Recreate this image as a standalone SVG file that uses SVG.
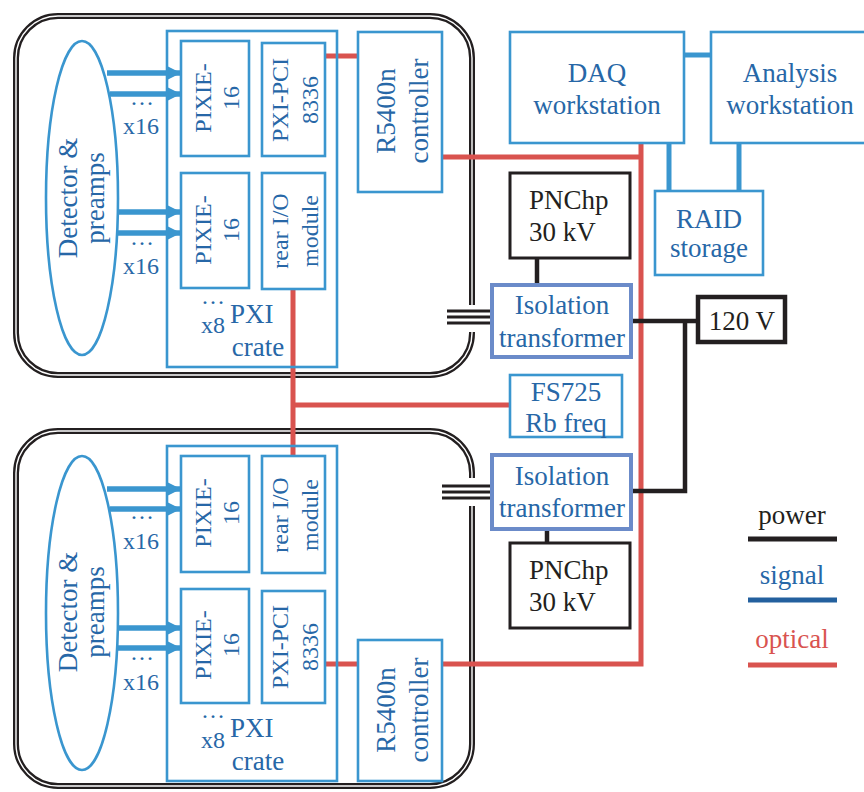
<svg xmlns="http://www.w3.org/2000/svg" width="864" height="792" viewBox="0 0 864 792">
  <defs>
    <marker id="arrowhead" markerUnits="userSpaceOnUse" markerWidth="16" markerHeight="16" refX="14" refY="8" orient="auto">
      <path d="M0,1 L14,8 L0,15 Z" fill="#3a96cf"/>
    </marker>
    <style>
      text { font-family: "Liberation Serif", "Times New Roman", serif; }
      .t27 { font-size: 27px; }
      .t24 { font-size: 24px; }
      .blue { fill: #2767a7; }
      .blk { fill: #231f20; }
      .red { fill: #d9534f; }
      .mid { text-anchor: middle; }
      .box { fill: #fff; stroke: #3a96cf; stroke-width: 2.6; }
      .frame { fill: none; stroke: #3a96cf; stroke-width: 2.6; }
      .pbox { fill: #fff; stroke: #231f20; stroke-width: 3; }
      .iso { fill: #fff; stroke: #6b8bc9; stroke-width: 4; }
      .encl-o { fill: none; stroke: #231f20; stroke-width: 6; }
      .encl-i { fill: none; stroke: #fff; stroke-width: 1.4; }
      .opt { fill: none; stroke: #d9534f; stroke-width: 5; }
      .pwr { fill: none; stroke: #231f20; stroke-width: 4.5; }
      .sig { fill: none; stroke: #3a96cf; stroke-width: 5; }
      .arr { fill: none; stroke: #3a96cf; stroke-width: 5.5; marker-end: url(#arrowhead); }
      .cable { stroke: #231f20; stroke-width: 3; }
    </style>
  </defs>
  <rect width="864" height="792" fill="#fff"/>

  <!-- shielded enclosures (double-line outline, gap where the cable enters) -->
  <g id="enclosure-top">
    <path class="encl-o" d="M472,332 V333 A42,42 0 0 1 430,375 H58 A42,42 0 0 1 16,333 V58 A42,42 0 0 1 58,16 H430 A42,42 0 0 1 472,58 V305"/>
    <path class="encl-i" d="M472,332 V333 A42,42 0 0 1 430,375 H58 A42,42 0 0 1 16,333 V58 A42,42 0 0 1 58,16 H430 A42,42 0 0 1 472,58 V305"/>
  </g>
  <g id="enclosure-bottom">
    <path class="encl-o" d="M472,506 V744 A42,42 0 0 1 430,786 H58 A42,42 0 0 1 16,744 V473 A42,42 0 0 1 58,431 H430 A42,42 0 0 1 472,473 V478"/>
    <path class="encl-i" d="M472,506 V744 A42,42 0 0 1 430,786 H58 A42,42 0 0 1 16,744 V473 A42,42 0 0 1 58,431 H430 A42,42 0 0 1 472,473 V478"/>
  </g>

  <!-- connectors -->
  <g id="connectors">
    <!-- optical -->
    <path class="opt" d="M325,56 H358"/>
    <path class="opt" d="M442,157 H641"/>
    <path class="opt" d="M641,143 V664 H442"/>
    <path class="opt" d="M325,664 H358"/>
    <path class="opt" d="M293,289 V456"/>
    <path class="opt" d="M293,405 H510"/>
    <!-- power -->
    <path class="pwr" d="M537,258 V285"/>
    <path class="pwr" d="M631,321 H698"/>
    <path class="pwr" d="M685,321 V491 H631"/>
    <path class="pwr" d="M547,529 V543"/>
    <!-- network -->
    <path class="sig" d="M684,55 H711"/>
    <path class="sig" d="M669,143 V191"/>
    <path class="sig" d="M739,143 V191"/>
    <!-- detector channels -->
    <path class="arr" d="M107,73 H181"/>
    <path class="arr" d="M110,94 H181"/>
    <path class="arr" d="M117,212 H181"/>
    <path class="arr" d="M117,233 H181"/>
    <path class="arr" d="M107,489 H181"/>
    <path class="arr" d="M110,509 H181"/>
    <path class="arr" d="M117,628 H181"/>
    <path class="arr" d="M117,648 H181"/>
    <!-- HV cables through the enclosure wall -->
    <line class="cable" x1="447" y1="311" x2="492" y2="311"/>
    <line class="cable" x1="447" y1="317" x2="492" y2="317"/>
    <line class="cable" x1="447" y1="323" x2="492" y2="323"/>
    <line class="cable" x1="442" y1="486" x2="492" y2="486"/>
    <line class="cable" x1="442" y1="492" x2="492" y2="492"/>
    <line class="cable" x1="442" y1="498" x2="492" y2="498"/>
  </g>

  <g font-family="Liberation Serif, Times New Roman, serif">
  <!-- PXI crate frames -->
  <g id="crate-top">
    <rect class="frame" x="167" y="31" width="170" height="336"/>
    <text class="t24 blue mid" x="213" y="304">…</text>
    <text class="t24 blue mid" x="213" y="333">x8</text>
    <text class="t27 blue" x="230" y="323">PXI</text>
    <text class="t27 blue mid" x="258" y="356">crate</text>
  </g>
  <g id="crate-bottom">
    <rect class="frame" x="167" y="446" width="170" height="335"/>
    <text class="t24 blue mid" x="213" y="718">…</text>
    <text class="t24 blue mid" x="213" y="748">x8</text>
    <text class="t27 blue" x="230" y="737">PXI</text>
    <text class="t27 blue mid" x="258" y="770">crate</text>
  </g>

  <!-- channel multiplicity labels -->
  <g id="channel-labels">
    <text class="t24 blue mid" x="142" y="105">…</text>
    <text class="t24 blue mid" x="141" y="134">x16</text>
    <text class="t24 blue mid" x="142" y="245">…</text>
    <text class="t24 blue mid" x="141" y="274">x16</text>
    <text class="t24 blue mid" x="142" y="519">…</text>
    <text class="t24 blue mid" x="141" y="549">x16</text>
    <text class="t24 blue mid" x="142" y="660">…</text>
    <text class="t24 blue mid" x="141" y="690">x16</text>
  </g>

  <!-- upper crate -->
  <g id="detector-top">
    <ellipse cx="82" cy="198" rx="36" ry="157" fill="none" stroke="#3a96cf" stroke-width="2.6"/>
    <text class="t27 blue mid" transform="translate(77,198) rotate(-90)">Detector &amp;</text>
    <text class="t27 blue mid" transform="translate(104,198) rotate(-90)">preamps</text>
  </g>
  <g id="pixie-top-1">
    <rect class="box" x="181" y="41" width="68" height="115"/>
    <text class="t24 blue mid" transform="translate(211,98) rotate(-90)">PIXIE-</text>
    <text class="t24 blue mid" transform="translate(239,98) rotate(-90)">16</text>
  </g>
  <g id="pxipci-top">
    <rect class="box" x="262" y="43" width="63" height="113"/>
    <text class="t24 blue mid" transform="translate(288,100) rotate(-90)">PXI-PCI</text>
    <text class="t24 blue mid" transform="translate(318,100) rotate(-90)">8336</text>
  </g>
  <g id="pixie-top-2">
    <rect class="box" x="181" y="173" width="68" height="115"/>
    <text class="t24 blue mid" transform="translate(211,230) rotate(-90)">PIXIE-</text>
    <text class="t24 blue mid" transform="translate(239,230) rotate(-90)">16</text>
  </g>
  <g id="reario-top">
    <rect class="box" x="262" y="173" width="63" height="116"/>
    <text class="t24 blue mid" transform="translate(288,231) rotate(-90)">rear I/O</text>
    <text class="t24 blue mid" transform="translate(318,231) rotate(-90)">module</text>
  </g>
  <g id="controller-top">
    <rect class="box" x="358" y="32" width="84" height="160"/>
    <text class="t27 blue mid" transform="translate(395,111) rotate(-90)">R5400n</text>
    <text class="t27 blue mid" transform="translate(428,111) rotate(-90)">controller</text>
  </g>

  <!-- lower crate -->
  <g id="detector-bottom">
    <ellipse cx="82" cy="613" rx="36" ry="157" fill="none" stroke="#3a96cf" stroke-width="2.6"/>
    <text class="t27 blue mid" transform="translate(77,612) rotate(-90)">Detector &amp;</text>
    <text class="t27 blue mid" transform="translate(104,612) rotate(-90)">preamps</text>
  </g>
  <g id="pixie-bottom-1">
    <rect class="box" x="181" y="456" width="68" height="116"/>
    <text class="t24 blue mid" transform="translate(211,513) rotate(-90)">PIXIE-</text>
    <text class="t24 blue mid" transform="translate(239,513) rotate(-90)">16</text>
  </g>
  <g id="reario-bottom">
    <rect class="box" x="262" y="456" width="63" height="117"/>
    <text class="t24 blue mid" transform="translate(288,515) rotate(-90)">rear I/O</text>
    <text class="t24 blue mid" transform="translate(318,515) rotate(-90)">module</text>
  </g>
  <g id="pixie-bottom-2">
    <rect class="box" x="181" y="589" width="68" height="114"/>
    <text class="t24 blue mid" transform="translate(211,645) rotate(-90)">PIXIE-</text>
    <text class="t24 blue mid" transform="translate(239,645) rotate(-90)">16</text>
  </g>
  <g id="pxipci-bottom">
    <rect class="box" x="262" y="591" width="63" height="112"/>
    <text class="t24 blue mid" transform="translate(288,647) rotate(-90)">PXI-PCI</text>
    <text class="t24 blue mid" transform="translate(318,647) rotate(-90)">8336</text>
  </g>
  <g id="controller-bottom">
    <rect class="box" x="358" y="640" width="84" height="141"/>
    <text class="t27 blue mid" transform="translate(395,710) rotate(-90)">R5400n</text>
    <text class="t27 blue mid" transform="translate(428,710) rotate(-90)">controller</text>
  </g>

  <!-- computing -->
  <g id="daq-workstation">
    <rect class="box" x="510" y="32" width="174" height="111"/>
    <text class="t27 blue mid" x="597" y="82">DAQ</text>
    <text class="t27 blue mid" x="597" y="114">workstation</text>
  </g>
  <g id="analysis-workstation">
    <rect class="box" x="711" y="32" width="170" height="111"/>
    <text class="t27 blue mid" x="790" y="82">Analysis</text>
    <text class="t27 blue mid" x="790" y="114">workstation</text>
  </g>
  <g id="raid-storage">
    <rect class="box" x="655" y="191" width="108" height="84"/>
    <text class="t27 blue mid" x="709" y="228">RAID</text>
    <text class="t27 blue mid" x="709" y="257">storage</text>
  </g>

  <!-- power and timing -->
  <g id="hv-top">
    <rect class="pbox" x="510" y="173" width="120" height="85"/>
    <text class="t27 blk" x="529" y="209">PNChp</text>
    <text class="t27 blk" x="529" y="241">30 kV</text>
  </g>
  <g id="isolation-top">
    <rect class="iso" x="492" y="285" width="139" height="72"/>
    <text class="t27 blue mid" x="562" y="314">Isolation</text>
    <text class="t27 blue mid" x="562" y="347">transformer</text>
  </g>
  <g id="mains">
    <rect x="698" y="297" width="87" height="45" fill="#fff" stroke="#231f20" stroke-width="4.5"/>
    <text class="t27 blk mid" x="742" y="330">120 V</text>
  </g>
  <g id="rb-clock">
    <rect class="box" x="510" y="375" width="112" height="62"/>
    <text class="t27 blue mid" x="566" y="401">FS725</text>
    <text class="t27 blue mid" x="566" y="432">Rb freq</text>
  </g>
  <g id="isolation-bottom">
    <rect class="iso" x="492" y="455" width="139" height="74"/>
    <text class="t27 blue mid" x="562" y="485">Isolation</text>
    <text class="t27 blue mid" x="562" y="517">transformer</text>
  </g>
  <g id="hv-bottom">
    <rect class="pbox" x="510" y="543" width="120" height="85"/>
    <text class="t27 blk" x="529" y="579">PNChp</text>
    <text class="t27 blk" x="529" y="611">30 kV</text>
  </g>

  <!-- legend -->
  <g id="legend">
    <text class="t27 blk mid" x="792" y="524">power</text>
    <line x1="748" y1="539" x2="837" y2="539" stroke="#231f20" stroke-width="5"/>
    <text class="t27 blue mid" x="792" y="584">signal</text>
    <line x1="748" y1="600" x2="837" y2="600" stroke="#23609e" stroke-width="5"/>
    <text class="t27 red mid" x="792" y="648">optical</text>
    <line x1="748" y1="665" x2="837" y2="665" stroke="#d9534f" stroke-width="5"/>
  </g>
  </g>
</svg>
